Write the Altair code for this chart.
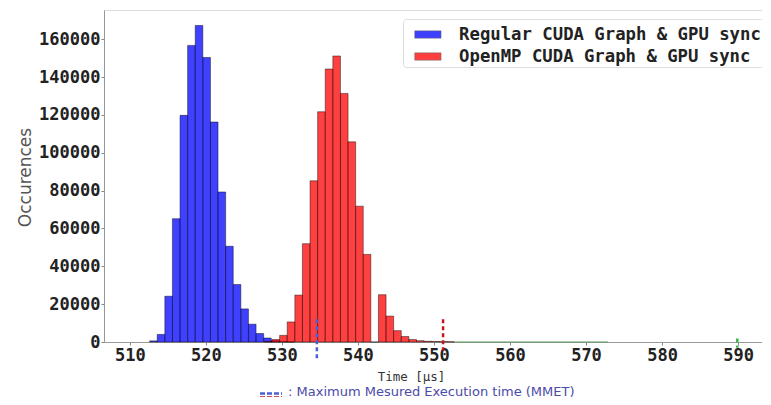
import altair as alt
import pandas as pd

# ---------------- data ----------------
bin_width = 1.0
series_names = ["Regular CUDA Graph & GPU sync", "OpenMP CUDA Graph & GPU sync"]
series_colors = ["blue", "red"]

blue_starts = [512.6, 513.6, 514.6, 515.6, 516.6, 517.6, 518.6, 519.6, 520.6, 521.6,
               522.6, 523.6, 524.6, 525.6, 526.6, 527.6, 528.6, 529.6, 530.6]
blue_counts = [600, 4000, 24200, 65200, 119800, 156800, 167300, 150400, 116300, 79300,
               50600, 30400, 17500, 9400, 4500, 2100, 800, 300, 100]

red_starts = [527.7, 528.7, 529.7, 530.7, 531.7, 532.7, 533.7, 534.7, 535.7, 536.7,
              537.7, 538.7, 539.7, 540.7, 541.7, 542.7, 543.7, 544.7, 545.7, 546.7,
              547.7, 548.7, 549.7, 550.7, 551.7]
red_counts = [300, 1300, 3500, 10600, 24800, 52000, 85200, 121700, 144300, 151200,
              131400, 105800, 71800, 46300, 0, 25000, 13700, 6000, 2900, 1300,
              700, 400, 300, 200, 150]

x_ticks = [510, 520, 530, 540, 550, 560, 570, 580, 590]
y_ticks = [0, 20000, 40000, 60000, 80000, 100000, 120000, 140000, 160000]

mmet_time = [534.6, 551.2, 589.9]
mmet_top = [12000, 12000, 1800]
mmet_bottom = [-9000, -4500, -3000]
mmet_color = ["#4a5fd8", "#c8141e", "#3cb44b"]

green_tail_start = [552.8]
green_tail_end = [572.9]

footnote = ": Maximum Mesured Execution time (MMET)"

# ---------------- tables ----------------
rows = []
for s, c in zip(blue_starts, blue_counts):
    rows.append({"start": s, "end": s + bin_width, "count": c, "base": 0, "series": series_names[0]})
for s, c in zip(red_starts, red_counts):
    rows.append({"start": s, "end": s + bin_width, "count": c, "base": 0, "series": series_names[1]})
hist = pd.DataFrame(rows)

mmet = pd.DataFrame({"t": mmet_time, "top": mmet_top, "bottom": mmet_bottom, "color": mmet_color})
tail = pd.DataFrame({"a": green_tail_start, "b": green_tail_end, "y": [0]})
note = pd.DataFrame({"text": [footnote]})

xscale = alt.Scale(domain=[506.6, 594.2], nice=False, zero=False)
yscale = alt.Scale(domain=[0, 175500], nice=False)

mono = "DejaVu Sans Mono"

bars = alt.Chart(hist).mark_bar(
    fillOpacity=0.75, stroke="black", strokeOpacity=0.55, strokeWidth=0.8
).encode(
    x=alt.X("start:Q", scale=xscale, axis=alt.Axis(
        values=x_ticks, format="d", title="Time [µs]",
        labelFont=mono, labelFontWeight="bold", labelFontSize=17, labelColor="#222222",
        labelPadding=2, tickSize=3, tickColor="#888888", domainColor="#999999",
        grid=False, titleFont=mono, titleFontWeight="normal", titleFontSize=12.5,
        titleColor="#333333", titleX=307, titleY=34, titleBaseline="middle",
        titleAlign="center")),
    x2="end:Q",
    y=alt.Y("count:Q", scale=yscale, axis=alt.Axis(
        values=y_ticks, format="d", title="Occurences",
        labelFont=mono, labelFontWeight="bold", labelFontSize=17, labelColor="#222222",
        labelPadding=1, tickSize=3, tickColor="#888888", domainColor="#999999",
        grid=False, titleFont="DejaVu Sans", titleFontWeight="normal", titleFontSize=17,
        titleColor="#555555", titleX=-79, titleY=167, titleAngle=270,
        titleAlign="center", titleBaseline="middle")),
    y2="base:Q",
    color=alt.Color("series:N", scale=alt.Scale(domain=series_names, range=series_colors),
                    legend=alt.Legend(
                        title=None, orient="none", legendX=299, legendY=9,
                        labelFont=mono, labelFontWeight="bold", labelFontSize=17.3,
                        labelColor="#222222", labelLimit=0,
                        symbolType="M-1,-0.28L1,-0.28L1,0.28L-1,0.28Z", symbolSize=692,
                        symbolOffset=9.4,
                        symbolOpacity=0.75, symbolStrokeColor="#333333",
                        symbolStrokeWidth=0.5, rowPadding=-1, labelOffset=17.7,
                        padding=2, strokeColor="#dddddd", fillColor="white",
                        cornerRadius=3)),
)

tail_rule = alt.Chart(tail).mark_rule(color="#5a9e5a", strokeWidth=1).encode(
    x="a:Q", x2="b:Q", y="y:Q"
)

mmet_rules = alt.Chart(mmet).mark_rule(strokeDash=[4, 3], strokeWidth=2.5).encode(
    x="t:Q", y="top:Q", y2="bottom:Q", color=alt.Color("color:N", scale=None)
)

note_text = alt.Chart(note).mark_text(
    align="left", baseline="middle", font="DejaVu Sans", fontSize=13, color="#4b4ba8"
).encode(text="text:N", x=alt.value(184), y=alt.value(381.5))

icon_blue = alt.Chart(note).mark_rule(color="#4a5fd8", strokeWidth=2.5, strokeDash=[5, 2]).encode(
    x=alt.value(156), x2=alt.value(178), y=alt.value(383.5))
icon_red = alt.Chart(note).mark_rule(color="#c8141e", strokeWidth=2.5, strokeDash=[5, 2]).encode(
    x=alt.value(156), x2=alt.value(178), y=alt.value(387.5))

chart = alt.layer(bars, tail_rule, mmet_rules, note_text, icon_blue, icon_red).properties(
    width=666, height=332,
    autosize=alt.AutoSizeParams(type="none"),
    padding={"left": 96, "top": 2, "right": -8, "bottom": 55},
).configure_view(stroke="#b0b0b0").configure(background="white")

chart.save("out.html", embed_options={"renderer": "svg", "actions": False})
